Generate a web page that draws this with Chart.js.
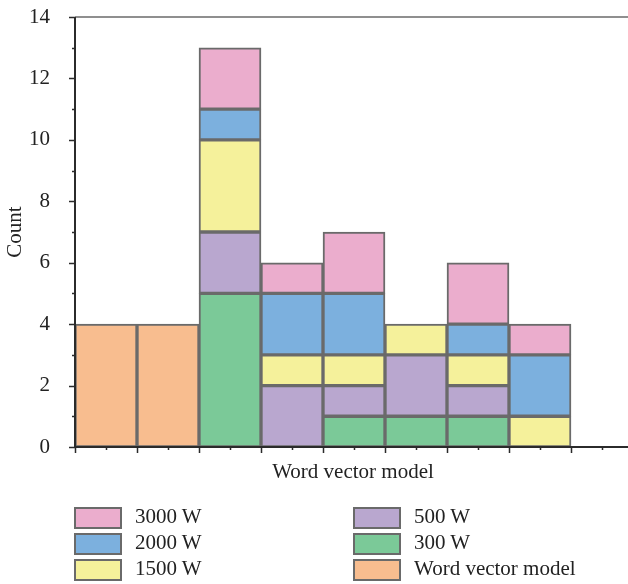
<!DOCTYPE html>
<html>
<head>
<meta charset="utf-8">
<script src="https://cdn.jsdelivr.net/npm/chart.js@4.4.1/dist/chart.umd.min.js"></script>
<style>
  body { margin: 0; background: #fff; }
  #wrap { position: relative; width: 628px; height: 584px; overflow: hidden; font-family: 'Liberation Serif', 'DejaVu Serif', serif; color: #222; }
  #chart { position: absolute; left: 0; top: 0; }
  #xtitle { position: absolute; left: 203px; width: 300px; top: 459px; text-align: center; font-size: 21px; }
  .item { position: absolute; height: 22px; font-size: 21px; line-height: 22px; }
  .item span.box { position: absolute; left: 0; top: 0; width: 44px; height: 18px; border: 2px solid #6a6a6a; }
  .item span.lbl { position: absolute; left: 61px; top: -2px; white-space: nowrap; }
</style>
</head>
<body>
<div id="wrap">
  <canvas id="chart" width="633" height="584"></canvas>
  <div id="xtitle">Word vector model</div>
  <div id="legend"></div>
</div>
<script>
// categories along x (labels are not shown)
const categories = ['1', '2', '3', '4', '5', '6', '7', '8', '9'];

// stacked values, bottom to top
const wordVectorModel = [4, 4, null, null, null, null, null, null, null];
const w300  = [null, null, 5, null, 1, 1, 1, null, null];
const w500  = [null, null, 2, 2, 1, 2, 1, null, null];
const w1500 = [null, null, 3, 1, 1, 1, 1, 1, null];
const w2000 = [null, null, 1, 2, 2, null, 1, 2, null];
const w3000 = [null, null, 2, 1, 2, null, 2, 1, null];

const yTicks = [0, 2, 4, 6, 8, 10, 12, 14];

const series = [
  { label: 'Word vector model', data: wordVectorModel, color: '#f8bd8f' },
  { label: '300 W', data: w300, color: '#7bc998' },
  { label: '500 W', data: w500, color: '#b9a7cf' },
  { label: '1500 W', data: w1500, color: '#f5f19b' },
  { label: '2000 W', data: w2000, color: '#7cb0de' },
  { label: '3000 W', data: w3000, color: '#ebadcd' }
];

// legend: two columns, like the original
const legendOrder = [
  ['3000 W', 74, 507], ['2000 W', 74, 533], ['1500 W', 74, 559],
  ['500 W', 353, 507], ['300 W', 353, 533], ['Word vector model', 353, 559]
];
const legendEl = document.getElementById('legend');
legendOrder.forEach(function(it) {
  const s = series.find(function(d) { return d.label === it[0]; });
  const div = document.createElement('div');
  div.className = 'item';
  div.style.left = it[1] + 'px';
  div.style.top = it[2] + 'px';
  div.innerHTML = '<span class="box" style="background:' + s.color + '"></span><span class="lbl">' + s.label + '</span>';
  legendEl.appendChild(div);
});

// axes, ticks and top frame line
const axisPlugin = {
  id: 'axisPlugin',
  afterDatasetsDraw(chart) {
    const ctx = chart.ctx;
    const a = chart.chartArea;
    const x = chart.scales.x, y = chart.scales.y;
    ctx.save();
    ctx.strokeStyle = '#6a6a6a';
    ctx.lineWidth = 1.5;
    ctx.beginPath();
    ctx.moveTo(a.left, a.top);
    ctx.lineTo(a.right, a.top);
    ctx.stroke();

    ctx.strokeStyle = '#2b2b2b';
    ctx.lineWidth = 2;
    ctx.beginPath();
    ctx.moveTo(a.left, a.top);
    ctx.lineTo(a.left, a.bottom);
    ctx.lineTo(a.right, a.bottom);
    ctx.stroke();

    ctx.lineWidth = 1.5;
    ctx.beginPath();
    for (let v = 0; v <= 14; v++) {
      const py = Math.round(y.getPixelForValue(v)) + 0.5;
      const len = v % 2 === 0 ? 6 : 3;
      ctx.moveTo(a.left, py);
      ctx.lineTo(a.left - len, py);
    }
    for (let i = 0; i <= categories.length; i++) {
      const px = Math.round(x.getPixelForValue(i - 0.5)) + 0.5;
      ctx.moveTo(px, a.bottom);
      ctx.lineTo(px, a.bottom + 6);
      if (i < categories.length) {
        const pc = Math.round(x.getPixelForValue(i)) + 0.5;
        ctx.moveTo(pc, a.bottom);
        ctx.lineTo(pc, a.bottom + 3);
      }
    }
    ctx.stroke();
    ctx.restore();
  }
};

new Chart(document.getElementById('chart'), {
  type: 'bar',
  data: {
    labels: categories,
    datasets: series.map(function(s) {
      return {
        label: s.label,
        data: s.data,
        backgroundColor: s.color,
        borderColor: '#6a6a6a',
        borderWidth: 2,
        borderSkipped: false,
        barPercentage: 1,
        categoryPercentage: 1
      };
    })
  },
  options: {
    responsive: false,
    animation: false,
    layout: { padding: { top: 17, right: 0, left: 0, bottom: 0 } },
    plugins: {
      legend: { display: false },
      tooltip: { enabled: false }
    },
    scales: {
      x: {
        stacked: true,
        grid: { display: false },
        border: { display: false },
        ticks: { display: false },
        afterFit: function(s) { s.height = 584 - 447; }
      },
      y: {
        stacked: true,
        min: 0,
        max: 14,
        afterBuildTicks: function(s) { s.ticks = yTicks.map(function(v) { return { value: v }; }); },
        grid: { display: false },
        border: { display: false },
        ticks: {
          padding: 17,
          color: '#222',
          font: { family: 'Liberation Serif', size: 21 }
        },
        title: {
          display: true,
          text: 'Count',
          color: '#222',
          font: { family: 'Liberation Serif', size: 21 },
          padding: { top: 3, bottom: 4 }
        },
        afterFit: function(s) { s.width = 75; s.paddingTop = 0; s.paddingBottom = 0; }
      }
    }
  },
  plugins: [axisPlugin]
});
</script>
</body>
</html>
